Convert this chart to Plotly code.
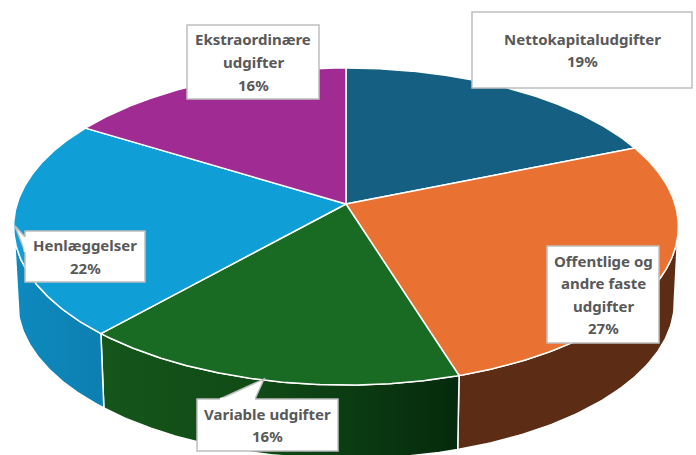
import numpy as np
import plotly.graph_objects as go

categories = ["Nettokapitaludgifter", "Offentlige og andre faste udgifter", "Variable udgifter", "Henlæggelser", "Ekstraordinære udgifter"]
values = [18.8, 26.4, 16.4, 22.2, 16.2]
label_lines = [["Nettokapitaludgifter", "19%"], ["Offentlige og", "andre faste", "udgifter", "27%"], ["Variable udgifter", "16%"], ["Henlæggelser", "22%"], ["Ekstraordinære", "udgifter", "16%"]]
top_colors = ["#156082", "#E97132", "#196B24", "#0F9ED5", "#A02B93"]
side_colors = [None, [[0, "#5C2C14"], [1, "#5C2C14"]], [[0, "#15561B"], [0.45, "#104A16"], [1, "#052A0C"]], [[0, "#0E8ABF"], [1, "#0D7FB0"]], None]

# label boxes: x0, y0, x1, y1
boxes = [(472, 12, 692, 88), (547, 246, 659, 343), (197, 399, 338, 451), (25, 231, 145, 282), (187, 25, 319, 99)]
tails = {2: [(220, 399), (264, 379), (255, 399)], 3: [(25, 237), (15, 226), (25, 252)]}

CX, CY, W, H, K = 346, 204, 329, 155.3, 0.142
DEPTH, SHRINK = 76, 0.988


def project(theta, scale=1.0, dy=0.0):
    X, Y = np.sin(theta), np.cos(theta)
    d = 1 + K * Y
    return CX + scale * W * X / d, CY + dy - scale * H * Y / d


fig = go.Figure()
edges = np.cumsum([0] + values) / sum(values) * 2 * np.pi

# side walls, only on the part of the rim that faces the viewer
for i, col in enumerate(side_colors):
    if col is None:
        continue
    t = np.linspace(edges[i], edges[i + 1], 120)
    t = t[np.cos(t) < -K + 0.02]
    xa, ya = project(t)
    xb, yb = project(t[::-1], SHRINK, DEPTH)
    fig.add_trace(go.Scatter(
        x=np.r_[xa, xb, xa[0]], y=np.r_[ya, yb, ya[0]], mode="lines", fill="toself",
        line=dict(color="white", width=1.5), hoverinfo="skip",
        fillgradient=dict(type="horizontal", colorscale=col),
    ))

# top faces
for i, col in enumerate(top_colors):
    t = np.linspace(edges[i], edges[i + 1], 160)
    xa, ya = project(t)
    fig.add_trace(go.Scatter(
        x=np.r_[CX, xa, CX], y=np.r_[CY, ya, CY], mode="lines", fill="toself",
        fillcolor=col, line=dict(color="white", width=1.5), name=categories[i], hoverinfo="name",
    ))

shapes = []
annotations = []
LINE_H = 22.6
for i, (x0, y0, x1, y1) in enumerate(boxes):
    shapes.append(dict(type="rect", x0=x0, y0=y0, x1=x1, y1=y1, fillcolor="white", line=dict(color="#BFBFBF", width=1.5), layer="above"))
    if i in tails:
        p = tails[i]
        path = "M " + " L ".join(f"{a},{b}" for a, b in p)
        shapes.append(dict(type="path", path=path, fillcolor="white", line=dict(color="#BFBFBF", width=1.5), layer="above"))
        # hide the tail's base line inside the box
        a, b, c = p
        shapes.append(dict(type="line", x0=a[0], y0=a[1], x1=c[0], y1=c[1], line=dict(color="white", width=2.5), layer="above"))
    lines = label_lines[i]
    mid = (y0 + y1) / 2
    for j, s in enumerate(lines):
        annotations.append(dict(
            x=(x0 + x1) / 2, y=mid + (j - (len(lines) - 1) / 2) * LINE_H, text=f"<b>{s}</b>", showarrow=False,
            xref="x", yref="y", xanchor="center", yanchor="middle",
            font=dict(family="Noto Sans", size=15, color="#595959"),
        ))

fig.update_layout(
    width=696, height=455, margin=dict(l=0, r=0, t=0, b=0), showlegend=False,
    paper_bgcolor="white", plot_bgcolor="white",
    xaxis=dict(range=[0, 696], visible=False, fixedrange=True),
    yaxis=dict(range=[455, 0], visible=False, fixedrange=True),
    shapes=shapes, annotations=annotations,
)
fig.write_html("out.html", config={"displayModeBar": False},
               post_script="document.body.style.margin='0';document.body.style.overflow='hidden';")
